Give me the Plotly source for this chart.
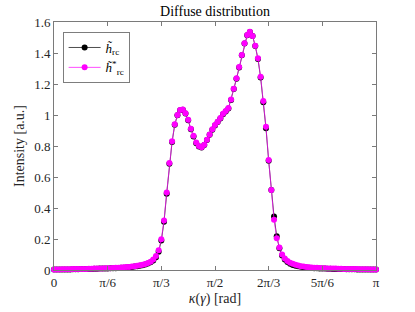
import numpy as np
import plotly.graph_objects as go

# kappa grid: 121 samples over [0, pi]
n_points = 121
kappa = np.linspace(0, np.pi, n_points)

h_star = [
    0.004, 0.004, 0.004, 0.005, 0.005, 0.005, 0.005, 0.006, 0.006, 0.006,
    0.007, 0.007, 0.007, 0.008, 0.008, 0.009, 0.009, 0.010, 0.010, 0.011,
    0.012, 0.012, 0.013, 0.014, 0.015, 0.016, 0.017, 0.019, 0.020, 0.022,
    0.024, 0.027, 0.030, 0.034, 0.039, 0.045, 0.054, 0.068, 0.090, 0.128,
    0.198, 0.320, 0.500, 0.690, 0.830, 0.940, 1.000, 1.032, 1.035, 1.012,
    0.970, 0.912, 0.866, 0.822, 0.800, 0.792, 0.808, 0.840, 0.875, 0.908,
    0.935, 0.957, 0.980, 1.008, 1.026, 1.045, 1.100, 1.170, 1.237, 1.310,
    1.387, 1.463, 1.516, 1.537, 1.510, 1.447, 1.366, 1.247, 1.090, 0.925,
    0.710, 0.516, 0.325, 0.205, 0.145, 0.100, 0.075, 0.058, 0.047, 0.040,
    0.034, 0.029, 0.025, 0.022, 0.020, 0.018, 0.016, 0.015, 0.014, 0.013,
    0.012, 0.011, 0.010, 0.010, 0.009, 0.009, 0.008, 0.008, 0.007, 0.007,
    0.007, 0.006, 0.006, 0.006, 0.005, 0.005, 0.005, 0.005, 0.004, 0.004,
    0.004,
]

h = [
    0.003, 0.003, 0.003, 0.004, 0.004, 0.004, 0.004, 0.005, 0.005, 0.005,
    0.006, 0.006, 0.006, 0.007, 0.007, 0.008, 0.008, 0.009, 0.009, 0.010,
    0.010, 0.011, 0.011, 0.012, 0.013, 0.014, 0.015, 0.016, 0.018, 0.020,
    0.022, 0.024, 0.027, 0.031, 0.036, 0.042, 0.050, 0.062, 0.082, 0.118,
    0.190, 0.312, 0.492, 0.685, 0.826, 0.937, 0.998, 1.030, 1.034, 1.010,
    0.966, 0.908, 0.862, 0.818, 0.797, 0.790, 0.806, 0.838, 0.872, 0.905,
    0.933, 0.955, 0.978, 1.005, 1.022, 1.042, 1.097, 1.167, 1.234, 1.307,
    1.385, 1.461, 1.515, 1.536, 1.509, 1.445, 1.362, 1.242, 1.082, 0.915,
    0.705, 0.516, 0.345, 0.218, 0.140, 0.094, 0.068, 0.051, 0.040, 0.033,
    0.028, 0.024, 0.021, 0.018, 0.016, 0.015, 0.013, 0.012, 0.011, 0.010,
    0.009, 0.009, 0.008, 0.008, 0.007, 0.007, 0.006, 0.006, 0.006, 0.005,
    0.005, 0.005, 0.005, 0.004, 0.004, 0.004, 0.004, 0.003, 0.003, 0.003,
    0.003,
]

x_tick_vals = [0, np.pi / 6, np.pi / 3, np.pi / 2, 2 * np.pi / 3, 5 * np.pi / 6, np.pi]
x_tick_text = ["0", "π/6", "π/3", "π/2", "2π/3", "5π/6", "π"]
y_tick_vals = [0, 0.2, 0.4, 0.6, 0.8, 1.0, 1.2, 1.4, 1.6]
y_tick_text = ["0", "0.2", "0.4", "0.6", "0.8", "1", "1.2", "1.4", "1.6"]

FONT = "Liberation Serif"

fig = go.Figure()
fig.add_trace(go.Scatter(
    x=kappa, y=h, mode="lines+markers",
    name="<i>h̃</i><sub>rc</sub>",
    line=dict(color="black", width=0.7),
    marker=dict(color="black", size=6),
    cliponaxis=False,
))
fig.add_trace(go.Scatter(
    x=kappa, y=h_star, mode="lines+markers",
    name="<i>h̃</i><sup>*</sup><sub>rc</sub>",
    line=dict(color="#FF00FF", width=0.7),
    marker=dict(color="#FF00FF", size=6),
    cliponaxis=False,
))

axis_common = dict(
    showline=True, linecolor="#7a7a7a", linewidth=1, mirror="ticks",
    ticks="inside", ticklen=4, tickcolor="#7a7a7a", tickwidth=1,
    showgrid=False, zeroline=False, automargin=False,
    tickfont=dict(family=FONT, size=13, color="#262626"),
)

fig.update_layout(
    width=415, height=312,
    margin=dict(l=54, r=39, t=22, b=42),
    paper_bgcolor="white", plot_bgcolor="white",
    font=dict(family=FONT, color="#262626"),
    title=dict(text="Diffuse distribution", x=0.5, xref="paper", xanchor="center",
               y=1 - 11 / 312, yanchor="middle",
               font=dict(family=FONT, size=14, color="black")),
    xaxis=dict(range=[0, np.pi], tickvals=x_tick_vals, ticktext=x_tick_text,
               title=dict(text="<i>κ</i>(<i>γ</i>) [rad]", standoff=4,
                          font=dict(family=FONT, size=14, color="#262626")),
               **axis_common),
    yaxis=dict(range=[0, 1.6], tickvals=y_tick_vals, ticktext=y_tick_text,
               title=dict(text="Intensity [a.u.]", standoff=6,
                          font=dict(family=FONT, size=14, color="#262626")),
               **axis_common),
    legend=dict(x=0.028, y=0.96, xanchor="left", yanchor="top",
                bgcolor="white", bordercolor="#262626", borderwidth=0.6,
                font=dict(family=FONT, size=13, color="black"),
                itemwidth=32, tracegroupgap=0),
    showlegend=True,
)

fig.write_html("out.html", config={"displayModeBar": False},
               post_script="document.body.style.margin='0';")
